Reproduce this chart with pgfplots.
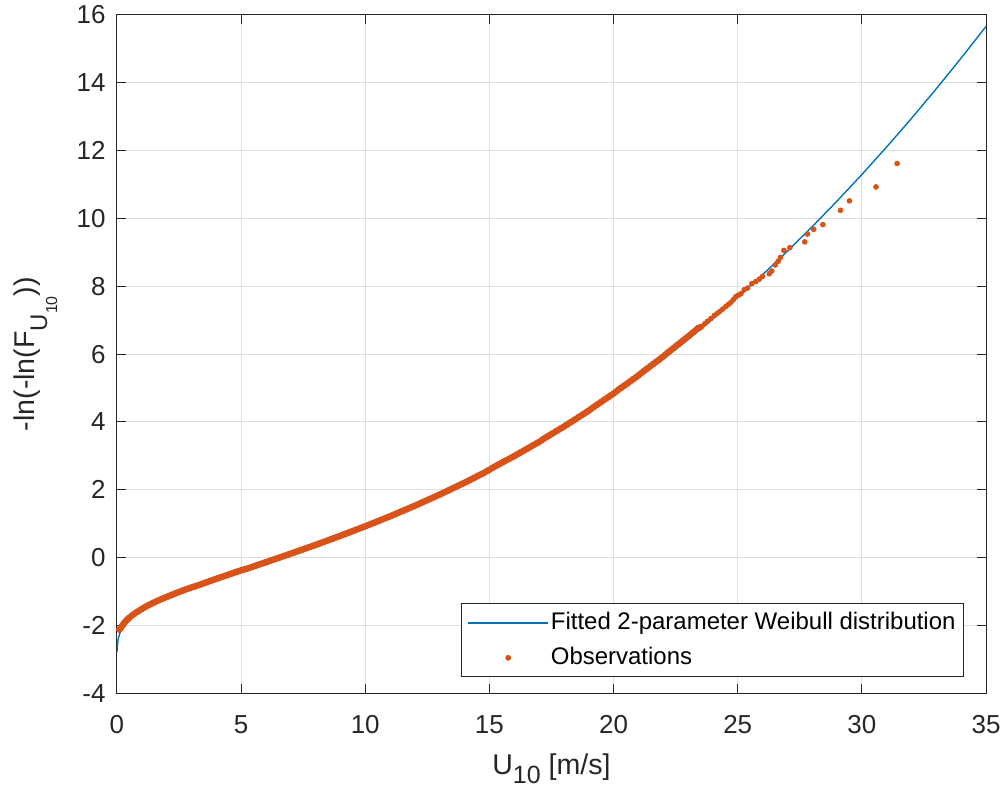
\documentclass[border=0pt]{standalone}
\usepackage{fontspec}
\setmainfont{Liberation Sans}
\usepackage{pgfplots}
\pgfplotsset{compat=1.18}
\definecolor{mblue}{RGB}{0,114,189}
\definecolor{morange}{RGB}{217,83,25}
\definecolor{maxis}{RGB}{38,38,38}
\definecolor{mgrid}{RGB}{223,223,223}
\pgfplotsset{
  lineleg/.style={legend image code/.code={\draw[##1] (0pt,0pt) -- (40pt,0pt);}},
  markleg/.style={legend image code/.code={\draw[mark repeat=2,mark phase=2,##1] plot coordinates {(0pt,0pt) (20pt,0pt) (40pt,0pt)};}},
}
\begin{document}
\begin{tikzpicture}
\path[use as bounding box] (-58.5pt,-47.5pt) rectangle (443.5pt,347pt);
\begin{axis}[
  scale only axis, width=435pt, height=339.5pt,
  xmin=0, xmax=35, ymin=-4, ymax=16,
  xtick={0,5,...,35}, ytick={-4,-2,...,16},
  grid=major, grid style={mgrid, line width=0.5pt},
  axis line style={maxis, line width=0.5pt},
  tick style={maxis, line width=0.5pt},
  tick align=inside, major tick length=4.5pt,
  ticklabel style={font=\fontsize{13}{15}\selectfont, text=maxis},
  /pgf/number format/assume math mode=true,
  xticklabel style={inner sep=0pt, yshift=-11pt},
  yticklabel style={inner sep=0pt, xshift=-5.5pt},
  label style={font=\fontsize{14.3}{16}\selectfont, text=maxis},
  xlabel={U\raisebox{-4.5pt}{\fontsize{12.5}{12.5}\selectfont 10} [m/s]},
  ylabel={-ln(-ln(F\raisebox{-6.5pt}{\fontsize{12}{12}\selectfont U\raisebox{-5pt}{\fontsize{8}{8}\selectfont 10}}))},
  xlabel style={at={(axis description cs:0.5,-0.1193)}, anchor=base, inner sep=0pt},
  ylabel style={at={(axis description cs:-0.1195,0.5)}, anchor=north, inner sep=0pt},
  legend cell align=left,
  legend style={at={(axis description cs:1,0)}, anchor=south east, xshift=-11pt, yshift=8pt,
    draw=maxis, line width=0.5pt, font=\fontsize{12}{14}\selectfont, text=black,
    inner xsep=3pt, inner ysep=0.75pt,
    nodes={inner xsep=1pt, inner ysep=2.5pt, text height=9.5pt, text depth=3pt}},
]
\addplot[mblue, line width=0.7pt, lineleg]
coordinates {
(0.005,-2.774) (0.01,-2.677) (0.05,-2.410) (0.1,-2.269) (0.15,-2.176) (0.2,-2.104)
(0.25,-2.045) (0.3,-1.993) (0.4,-1.906) (0.5,-1.834) (0.6,-1.770) (0.7,-1.713)
(0.8,-1.661) (0.9,-1.612) (1.0,-1.567) (1.2,-1.483) (1.4,-1.406) (1.6,-1.335)
(1.8,-1.268) (2.0,-1.205) (2.2,-1.143) (2.4,-1.084) (2.6,-1.027) (2.8,-0.971)
(3,-0.916) (4,-0.655) (5,-0.404) (6,-0.155) (7,0.097) (8,0.355) (9,0.624)
(10,0.904) (11,1.199) (12,1.511) (13,1.840) (14,2.190) (15,2.561) (16,2.954)
(17,3.371) (18,3.814) (19,4.282) (20,4.778) (21,5.300) (22,5.850) (23,6.430)
(24,7.039) (25,7.675) (26,8.340) (27,9.034) (28,9.759) (29,10.513) (30,11.296)
(31,12.110) (32,12.952) (33,13.826) (34,14.731) (35,15.661)
};
\addlegendentry{Fitted 2-parameter Weibull distribution}
% dense part of the observations (drawn as a band of overlapping dots)
\addplot[only marks, mark=*, mark size=1.5pt, color=morange, mark options={draw=none, fill=morange}, forget plot]
coordinates {
(0.10,-2.12) (0.15,-2.08) (0.20,-2.02) (0.25,-1.97) (0.30,-1.92) (0.35,-1.88) (0.40,-1.84)
(0.45,-1.805) (0.50,-1.77) (0.60,-1.71) (0.70,-1.655) (0.80,-1.605) (0.90,-1.56) (1.00,-1.515)
(1.1,-1.47) (1.2,-1.43) (1.3,-1.39) (1.4,-1.355) (1.5,-1.32) (1.6,-1.285) (1.7,-1.253)
(1.8,-1.22) (1.9,-1.19) (2.0,-1.16) (2.1,-1.13) (2.2,-1.10) (2.3,-1.07)
(2.4,-1.04) (2.5,-1.013) (2.6,-0.985) (2.7,-0.958) (2.8,-0.93) (2.9,-0.905) (3.0,-0.88)
(3.1,-0.857) (3.2,-0.834) (3.3,-0.808) (3.4,-0.782) (3.5,-0.756) (3.6,-0.729) (3.7,-0.703)
(3.8,-0.677) (3.9,-0.651) (4.0,-0.625)
(4.1,-0.600) (4.2,-0.575) (4.3,-0.550) (4.4,-0.525) (4.5,-0.500) (4.6,-0.474) (4.7,-0.449)
(4.8,-0.424) (4.9,-0.399) (5.0,-0.374)
(5.1,-0.354) (5.2,-0.334) (5.3,-0.310) (5.4,-0.285) (5.5,-0.260) (5.6,-0.235) (5.7,-0.210)
(5.8,-0.185) (5.9,-0.160) (6.0,-0.135)
(6.1,-0.110) (6.2,-0.085) (6.3,-0.060) (6.4,-0.034) (6.5,-0.009) (6.6,0.016) (6.7,0.042)
(6.8,0.067) (6.9,0.092) (7.0,0.117)
(7.1,0.143) (7.2,0.169) (7.3,0.195) (7.4,0.220) (7.5,0.246) (7.6,0.272) (7.7,0.298)
(7.8,0.323) (7.9,0.349) (8.0,0.375)
(8.1,0.402) (8.2,0.429) (8.3,0.456) (8.4,0.483) (8.5,0.510) (8.6,0.536) (8.7,0.563)
(8.8,0.590) (8.9,0.617) (9.0,0.644)
(9.1,0.672) (9.2,0.700) (9.3,0.728) (9.4,0.756) (9.5,0.784) (9.6,0.812) (9.7,0.840)
(9.8,0.868) (9.9,0.896) (10.0,0.924)
(10.1,0.954) (10.2,0.983) (10.3,1.013) (10.4,1.042) (10.5,1.072) (10.6,1.101) (10.7,1.131)
(10.8,1.160) (10.9,1.190) (11.0,1.219)
(11.1,1.250) (11.2,1.281) (11.3,1.313) (11.4,1.344) (11.5,1.375) (11.6,1.406) (11.7,1.438)
(11.8,1.469) (11.9,1.500) (12.0,1.531)
(12.1,1.564) (12.2,1.597) (12.3,1.630) (12.4,1.663) (12.5,1.696) (12.6,1.728) (12.7,1.761)
(12.8,1.794) (12.9,1.827) (13.0,1.860) (13.1,1.895) (13.2,1.930) (13.3,1.965) (13.4,2.000)
(13.5,2.035) (13.6,2.070) (13.7,2.105) (13.8,2.140) (13.9,2.175) (14.0,2.210)
(14.1,2.247) (14.2,2.284) (14.3,2.321) (14.4,2.358) (14.5,2.396) (14.6,2.433) (14.7,2.470)
(14.8,2.507) (14.9,2.549) (15.0,2.591) (15.1,2.636) (15.2,2.680) (15.3,2.719) (15.4,2.758)
(15.5,2.798) (15.6,2.837) (15.7,2.876) (15.8,2.915) (15.9,2.955) (16.0,2.994)
(16.1,3.036) (16.2,3.077) (16.3,3.119) (16.4,3.161) (16.5,3.203) (16.6,3.244) (16.7,3.286)
(16.8,3.328) (16.9,3.370) (17.0,3.411) (17.1,3.461) (17.2,3.510) (17.3,3.554) (17.4,3.598)
(17.5,3.643) (17.6,3.687) (17.7,3.731) (17.8,3.775) (17.9,3.820) (18.0,3.864)
(18.1,3.911) (18.2,3.958) (18.3,4.005) (18.4,4.051) (18.5,4.098) (18.6,4.145) (18.7,4.192)
(18.8,4.238) (18.9,4.285) (19.0,4.332) (19.1,4.387) (19.2,4.441) (19.3,4.491) (19.4,4.540)
(19.5,4.590) (19.6,4.640) (19.7,4.690) (19.8,4.739) (19.9,4.789) (20.0,4.838)
(20.1,4.895) (20.2,4.952) (20.3,5.005) (20.4,5.057) (20.5,5.109) (20.6,5.161) (20.7,5.214)
(20.8,5.266) (20.9,5.318) (21.0,5.370) (21.1,5.430) (21.2,5.490) (21.3,5.545) (21.4,5.600)
(21.5,5.655) (21.6,5.710) (21.7,5.765) (21.8,5.820) (21.9,5.875) (22.0,5.930)
(22.1,5.993) (22.2,6.056) (22.3,6.114) (22.4,6.172) (22.5,6.230) (22.6,6.288) (22.7,6.346)
(22.8,6.404) (22.9,6.462) (23.0,6.520) (23.1,6.581) (23.2,6.642) (23.3,6.703) (23.4,6.764)
(23.48,6.79)
};
% sparse tail of the observations
\addplot[only marks, mark=*, mark size=1.2pt, color=morange, mark options={draw=none, fill=morange}, markleg]
coordinates {
(23.56,6.82) (23.68,6.90) (23.79,6.97) (23.92,7.05) (24.06,7.14) (24.17,7.20) (24.28,7.26)
(24.40,7.33) (24.53,7.41) (24.63,7.47) (24.73,7.53) (24.83,7.61)
(24.93,7.70) (25.03,7.74) (25.13,7.78) (25.26,7.90) (25.40,7.95) (25.57,8.08) (25.73,8.14)
(25.87,8.21) (26.00,8.29) (26.27,8.37) (26.37,8.45) (26.51,8.63) (26.63,8.74)
(26.72,8.85) (26.86,9.06) (27.10,9.14) (27.70,9.31) (27.81,9.54) (28.06,9.68)
(28.43,9.82) (29.14,10.24) (29.50,10.52) (30.57,10.93) (31.42,11.62)
};
\addlegendentry{Observations}
\end{axis}
\end{tikzpicture}
\end{document}
